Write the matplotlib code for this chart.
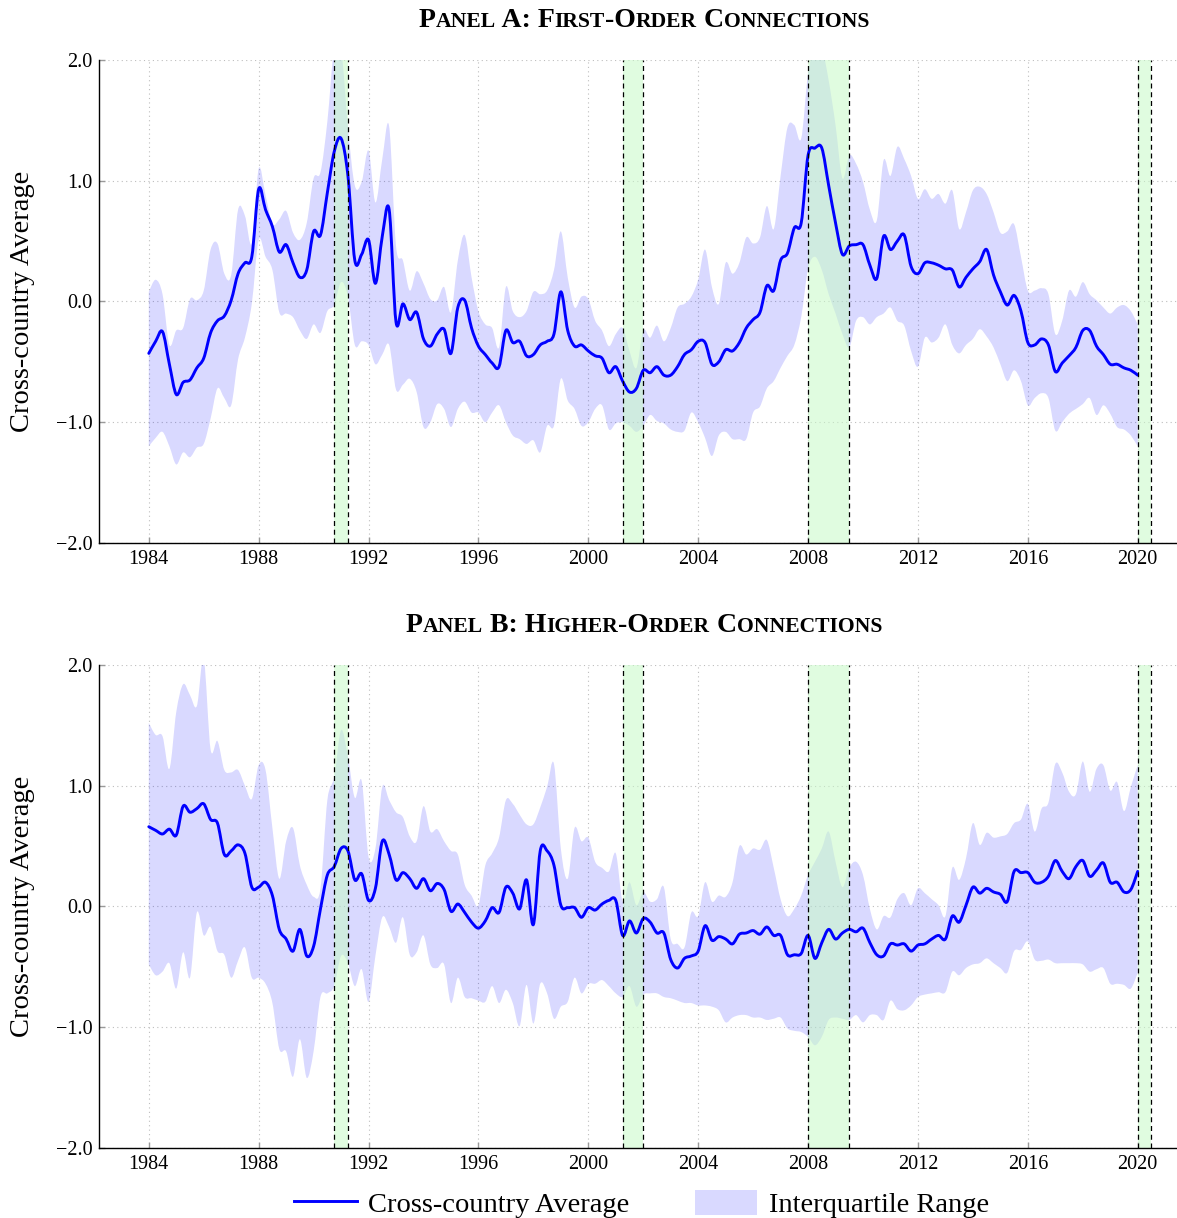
import numpy as np
import matplotlib
matplotlib.use('Agg')
import matplotlib.pyplot as plt
from matplotlib.offsetbox import TextArea, HPacker, AnnotationBbox
from matplotlib.lines import Line2D
from matplotlib.patches import Patch, PathPatch
from matplotlib.path import Path

plt.rcParams['font.family'] = ['Liberation Serif', 'DejaVu Serif']

# quarterly dates, 1984Q1 .. 2020Q1
quarters = np.arange(1984, 2020.001, 0.25)

# ---- Panel A: first-order connections ----
avg_a = [-0.43, -0.33, -0.25, -0.52,  -0.77, -0.67, -0.65, -0.55,
         -0.47, -0.26, -0.16, -0.12,   0.01, 0.23, 0.32, 0.37,
          0.93, 0.76, 0.62, 0.41,      0.47, 0.32, 0.20, 0.26,
          0.58, 0.55, 0.90, 1.24,      1.35, 1.04, 0.34, 0.39,
          0.51, 0.15, 0.54, 0.76,     -0.17, -0.02, -0.15, -0.09,
         -0.31, -0.37, -0.27, -0.23,  -0.43, -0.05, 0.01, -0.22,
         -0.37, -0.44, -0.51, -0.54,  -0.24, -0.34, -0.33, -0.45,
         -0.44, -0.36, -0.33, -0.27,   0.08, -0.24, -0.37, -0.36,
         -0.41, -0.45, -0.47, -0.59,  -0.54, -0.66, -0.75, -0.72,
         -0.57, -0.59, -0.54, -0.61,  -0.61, -0.54, -0.44, -0.40,
         -0.33, -0.34, -0.52, -0.50,  -0.40, -0.41, -0.34, -0.22,
         -0.15, -0.09, 0.13, 0.09,     0.34, 0.40, 0.61, 0.65,
          1.21, 1.27, 1.27, 0.96,      0.65, 0.39, 0.46, 0.47,
          0.47, 0.30, 0.19, 0.54,      0.43, 0.50, 0.55, 0.29,
          0.23, 0.32, 0.32, 0.30,      0.27, 0.26, 0.12, 0.20,
          0.27, 0.33, 0.43, 0.22,      0.08, -0.03, 0.05, -0.08,
         -0.34, -0.36, -0.31, -0.36,  -0.58, -0.51, -0.45, -0.38,
         -0.24, -0.24, -0.37, -0.44,  -0.52, -0.52, -0.55, -0.57,
         -0.61]

hi_a = [0.08, 0.18, 0.06, -0.36,   -0.24, -0.22, 0.02, 0.01,
        0.09, 0.43, 0.48, 0.23,     0.22, 0.76, 0.71, 0.48,
        1.10, 0.88, 0.64, 0.68,     0.75, 0.57, 0.51, 0.65,
        1.02, 1.07, 1.49, 2.10,     2.10, 1.44, 0.96, 0.99,
        1.25, 0.82, 1.18, 1.45,     0.46, 0.34, 0.09, 0.25,
        0.15, 0.02, 0.01, 0.12,    -0.09, 0.34, 0.55, 0.20,
       -0.08, -0.19, -0.22, -0.38,  0.12, -0.08, -0.13, -0.08,
        0.08, 0.06, 0.09, 0.26,     0.58, 0.20, -0.05, 0.04,
        0.02, -0.16, -0.24, -0.37, -0.27, -0.22, -0.41, -0.55,
       -0.24, -0.30, -0.20, -0.33, -0.22, -0.05, -0.02, 0.04,
        0.18, 0.43, 0.12, -0.02,    0.32, 0.23, 0.32, 0.53,
        0.48, 0.53, 0.79, 0.60,     1.04, 1.44, 1.46, 1.35,
        1.89, 2.10, 2.10, 1.83,     1.46, 1.02, 1.21, 1.14,
        0.99, 0.76, 0.67, 1.17,     1.04, 1.28, 1.18, 1.04,
        0.85, 0.93, 0.85, 0.89,     0.81, 0.92, 0.60, 0.74,
        0.92, 0.95, 0.89, 0.74,     0.57, 0.58, 0.64, 0.37,
        0.09, 0.09, 0.11, 0.06,    -0.27, -0.16, 0.09, 0.04,
        0.16, 0.06, 0.01, -0.05,   -0.10, -0.05, -0.03, -0.08,
       -0.19]

lo_a = [-1.20, -1.13, -1.08, -1.20,  -1.35, -1.25, -1.29, -1.21,
        -1.18, -0.97, -0.72, -0.80,  -0.86, -0.48, -0.30, -0.02,
         0.51, 0.37, 0.26, -0.09,    -0.10, -0.13, -0.24, -0.31,
        -0.19, -0.26, -0.08, -0.03,   0.16, 0.04, -0.36, -0.33,
        -0.36, -0.52, -0.44, -0.36,  -0.73, -0.69, -0.64, -0.75,
        -1.04, -1.00, -0.85, -0.89,  -1.04, -0.89, -0.83, -0.92,
        -0.92, -1.00, -0.92, -0.86,  -1.00, -1.11, -1.14, -1.18,
        -1.15, -1.25, -1.03, -1.03,  -0.64, -0.82, -0.89, -1.03,
        -1.00, -0.89, -0.86, -1.06,  -1.01, -1.00, -1.03, -1.08,
        -1.03, -0.94, -0.99, -1.01,  -1.06, -1.08, -1.07, -0.92,
        -1.00, -1.13, -1.28, -1.11,  -1.08, -1.14, -1.14, -1.14,
        -0.92, -0.87, -0.72, -0.66,  -0.55, -0.45, -0.36, -0.13,
         0.27, 0.37, 0.26, 0.06,     -0.10, -0.27, -0.38, -0.16,
        -0.13, -0.19, -0.13, -0.10,  -0.05, -0.16, -0.20, -0.41,
        -0.54, -0.30, -0.34, -0.30,  -0.19, -0.36, -0.43, -0.36,
        -0.31, -0.23, -0.29, -0.38,  -0.52, -0.66, -0.57, -0.66,
        -0.86, -0.80, -0.76, -0.80,  -1.07, -1.00, -0.93, -0.89,
        -0.85, -0.80, -0.94, -0.86,  -0.93, -1.04, -1.06, -1.11,
        -1.20]

# ---- Panel B: higher-order connections ----
avg_b = [0.66, 0.63, 0.60, 0.64,     0.59, 0.83, 0.78, 0.81,
         0.85, 0.72, 0.69, 0.43,     0.46, 0.51, 0.44, 0.16,
         0.16, 0.20, 0.09, -0.19,   -0.27, -0.37, -0.19, -0.41,
        -0.33, -0.02, 0.26, 0.33,    0.48, 0.46, 0.22, 0.27,
         0.05, 0.15, 0.54, 0.43,     0.22, 0.28, 0.23, 0.15,
         0.23, 0.13, 0.19, 0.14,    -0.04, 0.02, -0.05, -0.13,
        -0.18, -0.12, -0.01, -0.05,  0.16, 0.11, -0.02, 0.22,
        -0.15, 0.46, 0.46, 0.34,     0.01, -0.01, -0.01, -0.09,
        -0.01, -0.03, 0.02, 0.05,    0.05, -0.24, -0.12, -0.22,
        -0.10, -0.13, -0.22, -0.22, -0.44, -0.51, -0.43, -0.41,
        -0.37, -0.16, -0.28, -0.25, -0.27, -0.31, -0.23, -0.22,
        -0.20, -0.23, -0.17, -0.24, -0.24, -0.40, -0.40, -0.39,
        -0.24, -0.43, -0.30, -0.19, -0.27, -0.22, -0.19, -0.21,
        -0.18, -0.30, -0.40, -0.41, -0.31, -0.32, -0.31, -0.37,
        -0.32, -0.31, -0.27, -0.24, -0.27, -0.08, -0.13, 0.01,
         0.16, 0.11, 0.15, 0.12,     0.10, 0.04, 0.29, 0.28,
         0.28, 0.20, 0.20, 0.25,     0.38, 0.29, 0.23, 0.33,
         0.38, 0.25, 0.30, 0.36,     0.20, 0.20, 0.12, 0.14,
         0.29]

hi_b = [1.52, 1.42, 1.41, 1.14,     1.61, 1.84, 1.75, 1.66,
        2.05, 1.30, 1.37, 1.13,     1.11, 1.13, 1.00, 0.89,
        1.17, 1.13, 0.65, 0.23,     0.54, 0.65, 0.34, 0.18,
        0.08, 0.15, 0.88, 1.07,     1.46, 1.24, 0.90, 1.04,
        0.41, 0.48, 0.99, 0.88,     0.78, 0.74, 0.58, 0.54,
        0.83, 0.62, 0.64, 0.54,     0.46, 0.43, 0.18, 0.09,
        0.01, 0.34, 0.44, 0.57,     0.88, 0.85, 0.76, 0.68,
        0.68, 0.82, 0.99, 1.18,     0.48, 0.23, 0.65, 0.54,
        0.57, 0.37, 0.32, 0.29,     0.44, 0.04, 0.20, 0.01,
        0.12, 0.04, 0.06, 0.16,    -0.27, -0.31, -0.34, -0.05,
       -0.08, 0.20, 0.04, 0.09,     0.08, 0.20, 0.50, 0.43,
        0.48, 0.47, 0.55, 0.32,     0.06, -0.08, -0.02, 0.09,
        0.26, 0.37, 0.48, 0.62,     0.37, 0.16, 0.32, 0.37,
        0.26, -0.02, -0.19, -0.08, -0.09, 0.06, 0.11, 0.01,
        0.15, 0.11, 0.06, 0.01,    -0.08, 0.32, 0.22, 0.40,
        0.69, 0.51, 0.61, 0.57,     0.58, 0.60, 0.69, 0.72,
        0.85, 0.62, 0.81, 0.86,     1.18, 1.11, 0.95, 0.93,
        1.20, 0.95, 1.14, 1.17,     0.96, 1.03, 0.79, 0.99,
        1.17]

lo_b = [-0.48, -0.57, -0.54, -0.47,  -0.68, -0.38, -0.59, -0.05,
        -0.24, -0.17, -0.37, -0.40,  -0.59, -0.45, -0.34, -0.59,
        -0.59, -0.64, -0.80, -1.18,  -1.20, -1.41, -1.10, -1.42,
        -1.20, -0.75, -0.72, -0.66,  -0.41, -0.47, -0.66, -0.52,
        -0.79, -0.41, -0.09, -0.17,  -0.30, -0.09, -0.40, -0.38,
        -0.24, -0.48, -0.51, -0.48,  -0.80, -0.59, -0.75, -0.76,
        -0.78, -0.79, -0.66, -0.80,  -0.69, -0.80, -0.99, -0.65,
        -0.97, -0.64, -0.72, -0.93,  -0.83, -0.79, -0.59, -0.72,
        -0.64, -0.64, -0.61, -0.66,  -0.72, -0.75, -0.66, -0.83,
        -0.73, -0.72, -0.72, -0.75,  -0.76, -0.78, -0.80, -0.80,
        -0.82, -0.82, -0.83, -0.86,  -0.96, -0.92, -0.90, -0.90,
        -0.92, -0.92, -0.94, -0.93,  -0.92, -1.01, -1.03, -1.04,
        -1.08, -1.15, -1.08, -0.94,  -0.92, -0.93, -0.94, -0.90,
        -0.96, -0.90, -0.90, -0.94,  -0.78, -0.85, -0.86, -0.82,
        -0.75, -0.73, -0.72, -0.71,  -0.71, -0.54, -0.57, -0.51,
        -0.48, -0.47, -0.43, -0.47,  -0.51, -0.55, -0.37, -0.36,
        -0.29, -0.44, -0.45, -0.44,  -0.47, -0.47, -0.47, -0.47,
        -0.48, -0.54, -0.52, -0.51,  -0.64, -0.64, -0.65, -0.68,
        -0.55]

# recessions (shaded)
rec_start = [1990.75, 2001.25, 2008.0, 2020.0]
rec_end = [1991.25, 2002.0, 2009.5, 2020.5]

xtick_years = [1984, 1988, 1992, 1996, 2000, 2004, 2008, 2012, 2016, 2020]
ytick_vals = [-2, -1, 0, 1, 2]
ytick_labels = ['\u22122.0', '\u22121.0', '0.0', '1.0', '2.0']

titles = ['Panel A: First-Order Connections', 'Panel B: Higher-Order Connections']

for arr in (avg_a, hi_a, lo_a, avg_b, hi_b, lo_b):
    assert len(arr) == len(quarters), len(arr)

BLUE = (0, 0, 1)
GREEN = (200 / 255, 250 / 255, 200 / 255)


def small_caps(text, big=20, small=15.6):
    # lowercase letters are drawn as smaller capitals
    runs = []
    for ch in text:
        is_small = ch.islower()
        if runs and runs[-1][1] == is_small:
            runs[-1][0] += ch
        else:
            runs.append([ch, is_small])
    parts = []
    for s, is_small in runs:
        parts.append(TextArea(s.upper(), textprops=dict(fontsize=small if is_small else big,
                                                       fontweight='bold', color='black')))
    return HPacker(children=parts, align='baseline', pad=0, sep=0)


def smooth_segments(x, y):
    # bezier segments through the points (like a "smooth" plot)
    pts = np.column_stack([x, y])
    n = len(pts)
    verts = [pts[0]]
    codes = [Path.MOVETO]
    for i in range(n - 1):
        p0 = pts[i - 1] if i > 0 else pts[i]
        p1 = pts[i]
        p2 = pts[i + 1]
        p3 = pts[i + 2] if i + 2 < n else pts[i + 1]
        verts += [p1 + (p2 - p0) / 6, p2 - (p3 - p1) / 6, p2]
        codes += [Path.CURVE4] * 3
    return verts, codes


def draw_panel(ax, avg, lo, hi):
    q = np.asarray(quarters)
    v_hi, c_hi = smooth_segments(q, np.asarray(hi))
    v_lo, c_lo = smooth_segments(q[::-1], np.asarray(lo)[::-1])
    band = Path(v_hi + v_lo + [v_hi[0]], c_hi + [Path.LINETO] + c_lo[1:] + [Path.CLOSEPOLY])
    ax.add_patch(PathPatch(band, facecolor=BLUE, alpha=0.15, lw=0, zorder=1))
    for s, e in zip(rec_start, rec_end):
        ax.axvspan(s, e, color=GREEN, alpha=0.55, lw=0, zorder=2)
        ax.axvline(s, color='black', ls=(0, (4, 3)), lw=0.9, zorder=4)
        ax.axvline(e, color='black', ls=(0, (4, 3)), lw=0.9, zorder=4)
    v_l, c_l = smooth_segments(q, np.asarray(avg))
    ax.add_patch(PathPatch(Path(v_l, c_l), facecolor='none', edgecolor=BLUE, lw=2.1,
                           joinstyle='round', capstyle='round', zorder=3))
    ax.set_xlim(1982.2, 2021.43)
    ax.set_ylim(-2, 2)
    ax.set_xticks(xtick_years)
    ax.set_xticklabels([str(y) for y in xtick_years])
    ax.set_yticks(ytick_vals)
    ax.set_yticklabels(ytick_labels)
    ax.grid(True, ls=(0, (1, 3)), color='#bdbdbd', lw=0.8, zorder=0)
    ax.set_axisbelow(True)
    ax.spines['top'].set_visible(False)
    ax.spines['right'].set_visible(False)
    ax.spines['left'].set_linewidth(1.0)
    ax.spines['bottom'].set_linewidth(1.0)
    ax.tick_params(direction='in', length=4, width=1.0, color='#999999',
                   labelsize=14.5, labelcolor='black', pad=5)
    ax.set_ylabel('Cross-country Average', fontsize=20.5)
    ax.yaxis.set_label_coords(-0.06, 0.5)


fig = plt.figure(figsize=(11.77, 12.18), dpi=100)
ax1 = fig.add_axes([0.0844, 0.5542, 0.9156, 0.3966])
ax2 = fig.add_axes([0.0844, 0.0575, 0.9156, 0.3966])

draw_panel(ax1, avg_a, lo_a, hi_a)
draw_panel(ax2, avg_b, lo_b, hi_b)

for title, ypos in zip(titles, [0.9832, 0.4862]):
    ab = AnnotationBbox(small_caps(title), (0.547, ypos), xycoords='figure fraction',
                        frameon=False, box_alignment=(0.5, 0.5), pad=0)
    fig.add_artist(ab)

handles = [Line2D([], [], color=BLUE, lw=2.1),
           Patch(facecolor=BLUE, alpha=0.15, edgecolor='none')]
fig.legend(handles, ['Cross-country Average', 'Interquartile Range'],
           loc='center', bbox_to_anchor=(0.545, 0.0115), ncol=2, frameon=False,
           fontsize=20.5, handlelength=2.2, handleheight=1.0, handletextpad=0.4,
           columnspacing=2.3)

fig.savefig('out.png', dpi=100)
